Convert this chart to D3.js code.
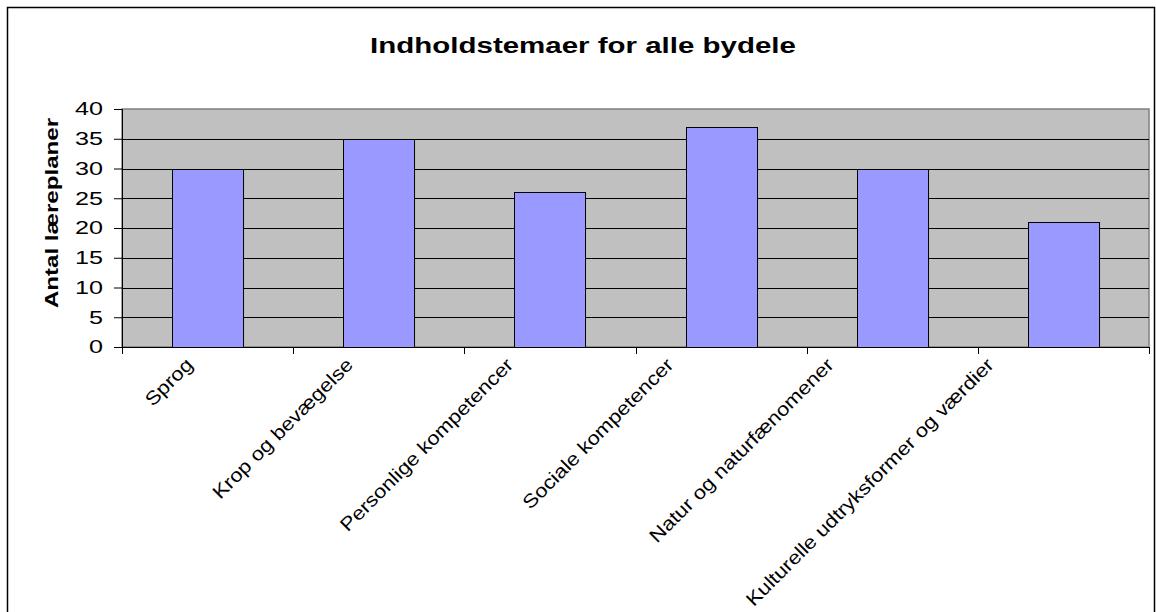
<!DOCTYPE html>
<html>
<head>
<meta charset="utf-8">
<script src="https://cdn.jsdelivr.net/npm/d3@7"></script>
<style>
  body { margin: 0; background: #fff; }
  text { font-family: "Liberation Sans", Arial, sans-serif; fill: #000; }
</style>
</head>
<body>
<div id="chart"></div>
<script>
// data
var categories = ['Sprog', 'Krop og bevægelse', 'Personlige kompetencer',
  'Sociale kompetencer', 'Natur og naturfænomener', 'Kulturelle udtryksformer og værdier'];
var values = [30, 35, 26, 37, 30, 21];
var yTicks = [0, 5, 10, 15, 20, 25, 30, 35, 40];
var title = 'Indholdstemaer for alle bydele';
var yTitle = 'Antal læreplaner';

// the text in the original is drawn with a wide font, so stretch it sideways
var stretch = 1.34;

var W = 1156, H = 612;
var margin = {top: 109, right: 7, bottom: 265, left: 122};
var width = W - margin.left - margin.right,
    height = H - margin.top - margin.bottom;

var svg = d3.select('#chart').append('svg')
  .attr('width', W)
  .attr('height', H);

// chart area frame
svg.append('rect')
  .attr('x', 7.5).attr('y', 7.5)
  .attr('width', 1147).attr('height', 700)
  .attr('fill', '#fff')
  .attr('stroke', '#000')
  .attr('stroke-width', 1.5);

svg.append('text')
  .attr('transform', 'translate(583,53) scale(' + stretch + ',1)')
  .attr('text-anchor', 'middle')
  .style('font-size', '22px')
  .style('font-weight', 'bold')
  .text(title);

var g = svg.append('g')
  .attr('transform', 'translate(' + margin.left + ',' + margin.top + ')');

var x = d3.scaleBand().domain(categories).range([0, width])
  .paddingInner(0.585).paddingOuter(0.2925);
var y = d3.scaleLinear().domain([0, 40]).range([height, 0]);

// grey plot area
g.append('rect')
  .attr('width', width).attr('height', height)
  .attr('fill', '#c0c0c0')
  .attr('stroke', '#808080')
  .attr('stroke-width', 1.5);

// gridlines
g.append('g').selectAll('line')
  .data(yTicks.filter(function(d) { return d > 0 && d < 40; }))
  .join('line')
  .attr('x1', 0).attr('x2', width)
  .attr('y1', function(d) { return Math.round(y(d)) + 0.5; })
  .attr('y2', function(d) { return Math.round(y(d)) + 0.5; })
  .attr('stroke', '#000');

// bars
g.append('g').selectAll('rect')
  .data(values)
  .join('rect')
  .attr('x', function(d, i) { return Math.round(x(categories[i])) + 0.5; })
  .attr('y', function(d) { return Math.round(y(d)) + 0.5; })
  .attr('width', x.bandwidth())
  .attr('height', function(d) { return height - Math.round(y(d)); })
  .attr('fill', '#9999ff')
  .attr('stroke', '#000');

// y axis
var tickStretch = 1.4;
var yAxis = g.append('g')
  .call(d3.axisLeft(y).tickValues(yTicks).tickSize(8).tickPadding(11));
yAxis.select('.domain').attr('stroke', '#000');
yAxis.selectAll('.tick text')
  .attr('transform', 'scale(' + tickStretch + ',1)')
  .attr('x', -19 / tickStretch)
  .style('font-size', '18px');

// x axis: ticks on the category boundaries
var bounds = d3.range(categories.length + 1).map(function(i) { return i * x.step(); });
var xAxis = g.append('g').attr('transform', 'translate(0,' + height + ')');
xAxis.append('line')
  .attr('x1', 0).attr('x2', width)
  .attr('y1', 0.5).attr('y2', 0.5)
  .attr('stroke', '#000');
xAxis.selectAll('.xtick')
  .data(bounds)
  .join('line')
  .attr('class', 'xtick')
  .attr('x1', function(d) { return Math.round(d) + 0.5; })
  .attr('x2', function(d) { return Math.round(d) + 0.5; })
  .attr('y1', 0).attr('y2', 7)
  .attr('stroke', '#000');

// category labels, cut off at the top as in the original
svg.append('clipPath').attr('id', 'labelClip')
  .append('rect')
  .attr('x', 0).attr('y', 357)
  .attr('width', W).attr('height', H);

var labelStretch = 1.15;
var labelX = d3.scalePoint().domain(categories).range([194, 995]);
svg.append('g')
  .attr('clip-path', 'url(#labelClip)')
  .selectAll('text')
  .data(categories)
  .join('text')
  .attr('transform', function(d) {
    return 'translate(' + labelX(d) + ',366) rotate(-45) scale(' + labelStretch + ',1)';
  })
  .attr('text-anchor', 'end')
  .style('font-size', '19px')
  .text(function(d) { return d; });

// y axis title
svg.append('text')
  .attr('transform', 'translate(58,213) rotate(-90) scale(' + stretch + ',1)')
  .attr('text-anchor', 'middle')
  .style('font-size', '18px')
  .style('font-weight', 'bold')
  .text(yTitle);
</script>
</body>
</html>
